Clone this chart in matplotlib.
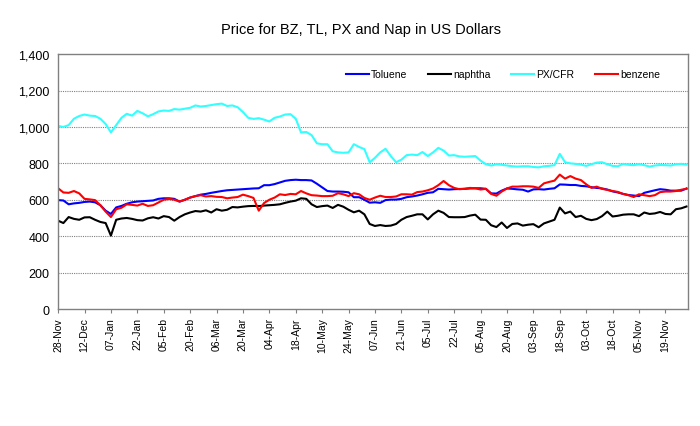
import matplotlib.pyplot as plt
from matplotlib.ticker import FuncFormatter

plt.rcParams['font.family'] = ['Liberation Sans', 'DejaVu Sans']

# tick labels, one every 10 trading days
date_labels = ['28-Nov', '12-Dec', '07-Jan', '22-Jan', '05-Feb', '20-Feb', '06-Mar',
               '20-Mar', '04-Apr', '18-Apr', '10-May', '24-May', '07-Jun', '21-Jun',
               '05-Jul', '22-Jul', '05-Aug', '20-Aug', '03-Sep', '18-Sep', '03-Oct',
               '18-Oct', '05-Nov', '19-Nov']

# prices read every 2nd trading day
px_cfr = [1005, 1000, 1010, 1045, 1060, 1068, 1062, 1060, 1045, 1016,
          970, 1010, 1050, 1072, 1062, 1088, 1075, 1058, 1070, 1085,
          1090, 1088, 1098, 1095, 1100, 1105, 1118, 1112, 1115, 1120,
          1125, 1128, 1115, 1118, 1108, 1082, 1050, 1044, 1048, 1040,
          1030, 1050, 1057, 1068, 1070, 1045, 970, 972, 955, 910,
          905, 905, 866, 860, 858, 860, 905, 890, 878, 806,
          830, 860, 880, 840, 806, 820, 845, 848, 845, 862,
          840, 860, 885, 870, 843, 845, 838, 836, 838, 840,
          815, 795, 788, 795, 792, 788, 784, 782, 784, 784,
          780, 778, 784, 786, 790, 852, 806, 800, 797, 793,
          786, 795, 804, 806, 795, 786, 784, 797, 792, 790,
          795, 790, 782, 788, 791, 790, 788, 795, 797, 793]

benzene = [663, 640, 638, 648, 635, 605, 602, 598, 570, 535,
           505, 548, 556, 575, 572, 568, 578, 566, 570, 585,
           600, 605, 600, 590, 600, 612, 620, 625, 618, 620,
           616, 615, 608, 612, 615, 628, 620, 610, 540, 582,
           600, 612, 630, 626, 632, 630, 648, 635, 625, 623,
           620, 620, 622, 636, 630, 620, 636, 630, 610, 600,
           612, 622, 615, 615, 618, 630, 630, 628, 642, 645,
           652, 662, 680, 703, 680, 665, 658, 660, 665, 663,
           656, 660, 632, 622, 645, 662, 672, 672, 674, 674,
           672, 665, 690, 698, 705, 738, 716, 730, 716, 708,
           685, 665, 672, 660, 654, 648, 643, 632, 625, 615,
           630, 625, 620, 625, 642, 645, 645, 648, 655, 660]

toluene = [598, 596, 575, 580, 583, 588, 590, 586, 570, 540,
           522, 558, 566, 578, 586, 590, 592, 594, 596, 605,
           608, 608, 605, 590, 600, 612, 620, 628, 632, 638,
           643, 648, 652, 654, 656, 658, 660, 662, 663, 680,
           680, 686, 695, 704, 708, 710, 708, 708, 706, 688,
           668, 648, 645, 645, 644, 641, 614, 614, 600, 584,
           586, 583, 598, 601, 601, 605, 614, 618, 623, 630,
           638, 641, 660, 658, 656, 658, 659, 660, 662, 663,
           663, 660, 635, 634, 650, 662, 660, 657, 655, 645,
           657, 658, 656, 660, 663, 684, 683, 681, 681, 676,
           674, 669, 665, 662, 656, 646, 640, 632, 626, 623,
           620, 638, 645, 652, 658, 655, 650, 650, 650, 662]

naphtha = [485, 472, 505, 495, 490, 503, 504, 490, 478, 472,
           403, 490, 497, 500, 495, 488, 486, 498, 504, 497,
           510, 505, 485, 505, 520, 530, 538, 535, 542, 530,
           548, 540, 545, 560, 558, 562, 565, 566, 565, 568,
           570, 572, 575, 583, 590, 595, 608, 605, 575, 560,
           565, 568, 555, 572, 562, 545, 531, 540, 520, 467,
           456, 461, 456, 458, 467, 490, 505, 512, 520, 520,
           492, 520, 540, 528, 505, 504, 504, 505, 513, 518,
           491, 490, 460, 450, 475, 445, 467, 470, 458, 463,
           466, 449, 470, 480, 490, 557, 525, 535, 505, 512,
           495, 488, 494, 510, 535, 508, 512, 518, 520, 520,
           510, 530, 522, 525, 533, 522, 520, 548, 553, 563]

days = [2 * i for i in range(len(px_cfr))]
tick_pos = [10 * i for i in range(len(date_labels))]

fig = plt.figure(figsize=(7.0, 4.27), dpi=100)
ax = fig.add_axes([0.083, 0.274, 0.9, 0.597])

ax.plot(days, toluene, color='#0000FF', lw=1.5, label='Toluene')
ax.plot(days, naphtha, color='#000000', lw=1.5, label='naphtha')
ax.plot(days, px_cfr, color='#33FFFF', lw=1.5, label='PX/CFR')
ax.plot(days, benzene, color='#FF0000', lw=1.5, label='benzene')

ax.set_xlim(0, 238.6)
ax.set_ylim(0, 1400)
ax.set_yticks(range(0, 1401, 200))
ax.yaxis.set_major_formatter(FuncFormatter(lambda v, p: f'{int(v):,}'))
ax.set_xticks(tick_pos)
ax.set_xticklabels(date_labels, rotation=90, fontsize=7.5)
ax.tick_params(axis='y', labelsize=9, length=0, pad=6)
ax.tick_params(axis='x', length=3, color='#808080', pad=3)

for v in range(200, 1400, 200):
    ax.axhline(v, color='#808080', lw=0.8, ls=(0, (1, 1)), zorder=0)

for s in ax.spines.values():
    s.set_color('#808080')
    s.set_linewidth(1.0)

leg = ax.legend(loc='center', bbox_to_anchor=(0.706, 0.92), ncol=4, frameon=False,
                fontsize=7.5, handlelength=2.2, handletextpad=0.2, columnspacing=2.0)

fig.text(0.516, 0.93, 'Price for BZ, TL, PX and Nap in US Dollars', ha='center',
         va='center', fontsize=10.5)

fig.savefig('out.png', dpi=100)
